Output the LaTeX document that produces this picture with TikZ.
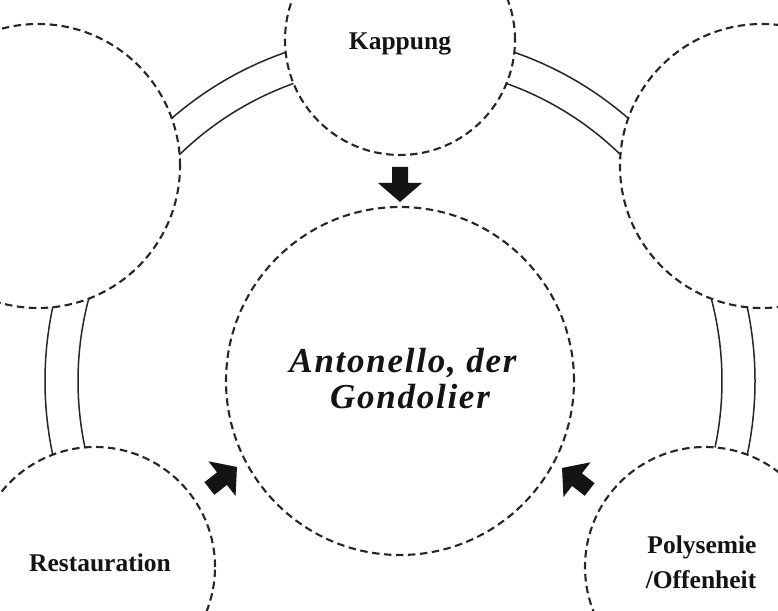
\documentclass[tikz,border=0pt]{standalone}
\usepackage{fontspec}
\setmainfont{Liberation Serif}
\newfontfamily\titlefont[LetterSpace=5]{Liberation Serif}
\begin{document}
\begin{tikzpicture}[x=1pt,y=1pt,
  ring/.style={circle, draw=black!85, line width=2.1pt, dash pattern=on 7.5pt off 4.5pt, inner sep=0pt, outer sep=0pt},
  bridge/.style={draw=black!85, line width=1.5pt},
  lbl/.style={font=\fontsize{25.5}{35}\selectfont\bfseries, text=black!92, anchor=base, inner sep=0pt},
  blockarr/.pic={\fill[black!92] (0,-8) -- (16,-8) -- (16,-22) -- (35,0) -- (16,22) -- (16,8) -- (0,8) -- cycle;}
]
\useasboundingbox (0,0) rectangle (778,610);
\fill[white] (0,0) rectangle (778,610);

% the central circle and the five surrounding ones
\node[ring, minimum size=348pt] (core) at (400,229) {};
\node[ring, minimum size=230pt] (top) at (400,570) {};
\node[ring, minimum size=284pt] (ul) at (38,444) {};
\node[ring, minimum size=284pt] (ur) at (762,444) {};
\node[ring, minimum size=240pt] (bl) at (95,43) {};
\node[ring, minimum size=240pt] (br) at (705,43) {};

% labels
\node[lbl] (kap) at (400,560) {Kappung};
\node[lbl] (res) at (100,39) {Restauration};
\node[lbl] (pol) at (702,57) {Polysemie};
\node[lbl] (off) at (701,22) {/Offenheit};
\node[font=\titlefont\fontsize{35}{36}\selectfont\bfseries\itshape, text=black!92, align=center, inner sep=0pt] (title) at (403,231)
  {Antonello, der\\\hspace*{14pt}Gondolier};

% double-line bridges, concentric with the central circle
\draw[bridge] ([shift={(109.19:348)}]core.center) arc[start angle=109.19, end angle=130.99, radius=348];
\draw[bridge] ([shift={(109.70:316)}]core.center) arc[start angle=109.70, end angle=134.29, radius=316];
\draw[bridge] ([shift={(70.81:348)}]core.center) arc[start angle=70.81, end angle=49.01, radius=348];
\draw[bridge] ([shift={(70.30:316)}]core.center) arc[start angle=70.30, end angle=45.71, radius=316];
\draw[bridge] ([shift={(168.0:355)}]core.center) arc[start angle=168.0, end angle=192.0, radius=355];
\draw[bridge] ([shift={(165.14:322)}]core.center) arc[start angle=165.14, end angle=191.92, radius=322];
\draw[bridge] ([shift={(12.0:355)}]core.center) arc[start angle=12.0, end angle=-12.0, radius=355];
\draw[bridge] ([shift={(14.86:322)}]core.center) arc[start angle=14.86, end angle=-11.92, radius=322];

% block arrows pointing into the central circle
\pic[rotate=-90] at (400,443) {blockarr};
\pic[rotate=38] at (209.4,121.5) {blockarr};
\pic[rotate=142] at (589.6,120.5) {blockarr};
\end{tikzpicture}
\end{document}
